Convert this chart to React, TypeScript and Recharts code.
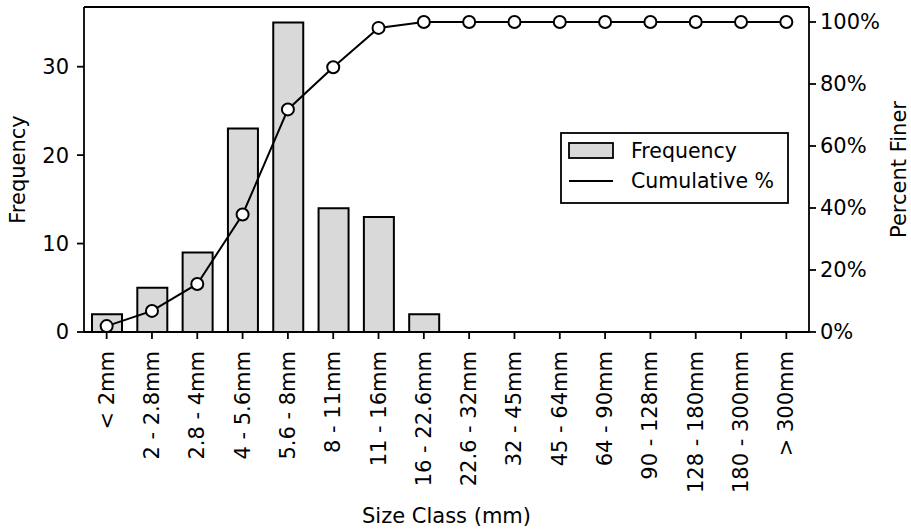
import React from 'react';
import { ComposedChart, Bar, Line, XAxis, YAxis, Legend, ReferenceLine } from 'recharts';

const categories = ['< 2mm', '2 - 2.8mm', '2.8 - 4mm', '4 - 5.6mm', '5.6 - 8mm', '8 - 11mm', '11 - 16mm', '16 - 22.6mm', '22.6 - 32mm', '32 - 45mm', '45 - 64mm', '64 - 90mm', '90 - 128mm', '128 - 180mm', '180 - 300mm', '> 300mm'];
const frequency = [2, 5, 9, 23, 35, 14, 13, 2, 0, 0, 0, 0, 0, 0, 0, 0];
const cumulative = [1.9, 6.8, 15.5, 37.9, 71.8, 85.4, 98.1, 100, 100, 100, 100, 100, 100, 100, 100, 100];
const freqTicks = [0, 10, 20, 30];
const pctTicks = [0, 20, 40, 60, 80, 100];
const freqMax = 36.75;
const pctMax = 104.84;

const data = categories.map((name, i) => ({ name, freq: frequency[i], cum: cumulative[i] }));

const FONT = "'DejaVu Sans', sans-serif";
const FS = 21;
const LFS = 20.5;
const SW = 1.8;

const XTick = (props: any) => {
  const { x, y, payload } = props;
  return (
    <text x={x} y={y} transform={`rotate(-90, ${x}, ${y})`} textAnchor="end" dominantBaseline="central" fontFamily={FONT} fontSize={FS} fill="#000">
      {payload.value}
    </text>
  );
};

const VLabel = (text: string, cx: number) => (props: any) => {
  const vb = props.viewBox || {};
  const cy = (vb.y || 0) + (vb.height || 0) / 2;
  return (
    <text x={cx} y={cy} transform={`rotate(-90, ${cx}, ${cy})`} textAnchor="middle" dominantBaseline="central" fontFamily={FONT} fontSize={FS} fill="#000">
      {text}
    </text>
  );
};

const XLabel = (props: any) => {
  const vb = props.viewBox || {};
  const cx = (vb.x || 0) + (vb.width || 0) / 2;
  return (
    <text x={cx} y={516} textAnchor="middle" dominantBaseline="central" fontFamily={FONT} fontSize={FS} fill="#000">
      Size Class (mm)
    </text>
  );
};

const LegendBox = () => (
  <svg width={229} height={72} style={{ display: 'block' }}>
    <rect x={1} y={1} width={227} height={70} fill="#fff" stroke="#000" strokeWidth={SW} />
    <rect x={9} y={11} width={44} height={15} fill="#d9d9d9" stroke="#000" strokeWidth={SW} />
    <text x={71} y={19} dominantBaseline="central" fontFamily={FONT} fontSize={LFS} fill="#000">Frequency</text>
    <line x1={9} x2={53} y1={49} y2={49} stroke="#000" strokeWidth={SW} />
    <text x={71} y={49} dominantBaseline="central" fontFamily={FONT} fontSize={LFS} fill="#000">Cumulative %</text>
  </svg>
);

export default function App() {
  return (
    <div style={{ position: 'absolute', left: 0, top: 0, width: 911, height: 531, background: '#fff' }}>
      <ComposedChart width={911} height={531} data={data} margin={{ top: 7, right: 0, bottom: 0, left: 0 }}>
        <XAxis
          dataKey="name"
          xAxisId="bottom"
          height={199}
          interval={0}
          tick={<XTick />}
          tickSize={7}
          tickMargin={12}
          tickLine={{ stroke: '#000', strokeWidth: SW }}
          axisLine={{ stroke: '#000', strokeWidth: SW }}
          label={<XLabel />}
        />
        <YAxis
          yAxisId="left"
          orientation="left"
          width={84}
          domain={[0, freqMax]}
          ticks={freqTicks}
          allowDataOverflow
          tickSize={7}
          tickMargin={8}
          tick={{ fontFamily: FONT, fontSize: FS, fill: '#000' }}
          tickLine={{ stroke: '#000', strokeWidth: SW }}
          axisLine={{ stroke: '#000', strokeWidth: SW }}
          label={VLabel('Frequency', 18)}
        />
        <YAxis
          yAxisId="right"
          orientation="right"
          width={102}
          domain={[0, pctMax]}
          ticks={pctTicks}
          allowDataOverflow
          tickFormatter={(v: number) => `${v}%`}
          tickSize={7}
          tickMargin={4}
          tick={{ fontFamily: FONT, fontSize: FS, fill: '#000' }}
          tickLine={{ stroke: '#000', strokeWidth: SW }}
          axisLine={{ stroke: '#000', strokeWidth: SW }}
          label={VLabel('Percent Finer', 899)}
        />
        <ReferenceLine xAxisId="bottom" yAxisId="left" y={freqMax} stroke="#000" strokeWidth={SW} ifOverflow="extendDomain" />
        <Bar dataKey="freq" xAxisId="bottom" yAxisId="left" barSize={30} fill="#d9d9d9" stroke="#000" strokeWidth={2} isAnimationActive={false} />
        <Line
          dataKey="cum"
          xAxisId="bottom"
          yAxisId="right"
          type="linear"
          stroke="#000"
          strokeWidth={2}
          dot={{ r: 6, fill: '#fff', stroke: '#000', strokeWidth: 2 }}
          activeDot={false}
          isAnimationActive={false}
        />
        <Legend
          layout="vertical"
          align="center"
          verticalAlign="middle"
          content={() => <LegendBox />}
          wrapperStyle={{ position: 'absolute', left: 560, top: 132, width: 229, height: 72 }}
        />
      </ComposedChart>
    </div>
  );
}
